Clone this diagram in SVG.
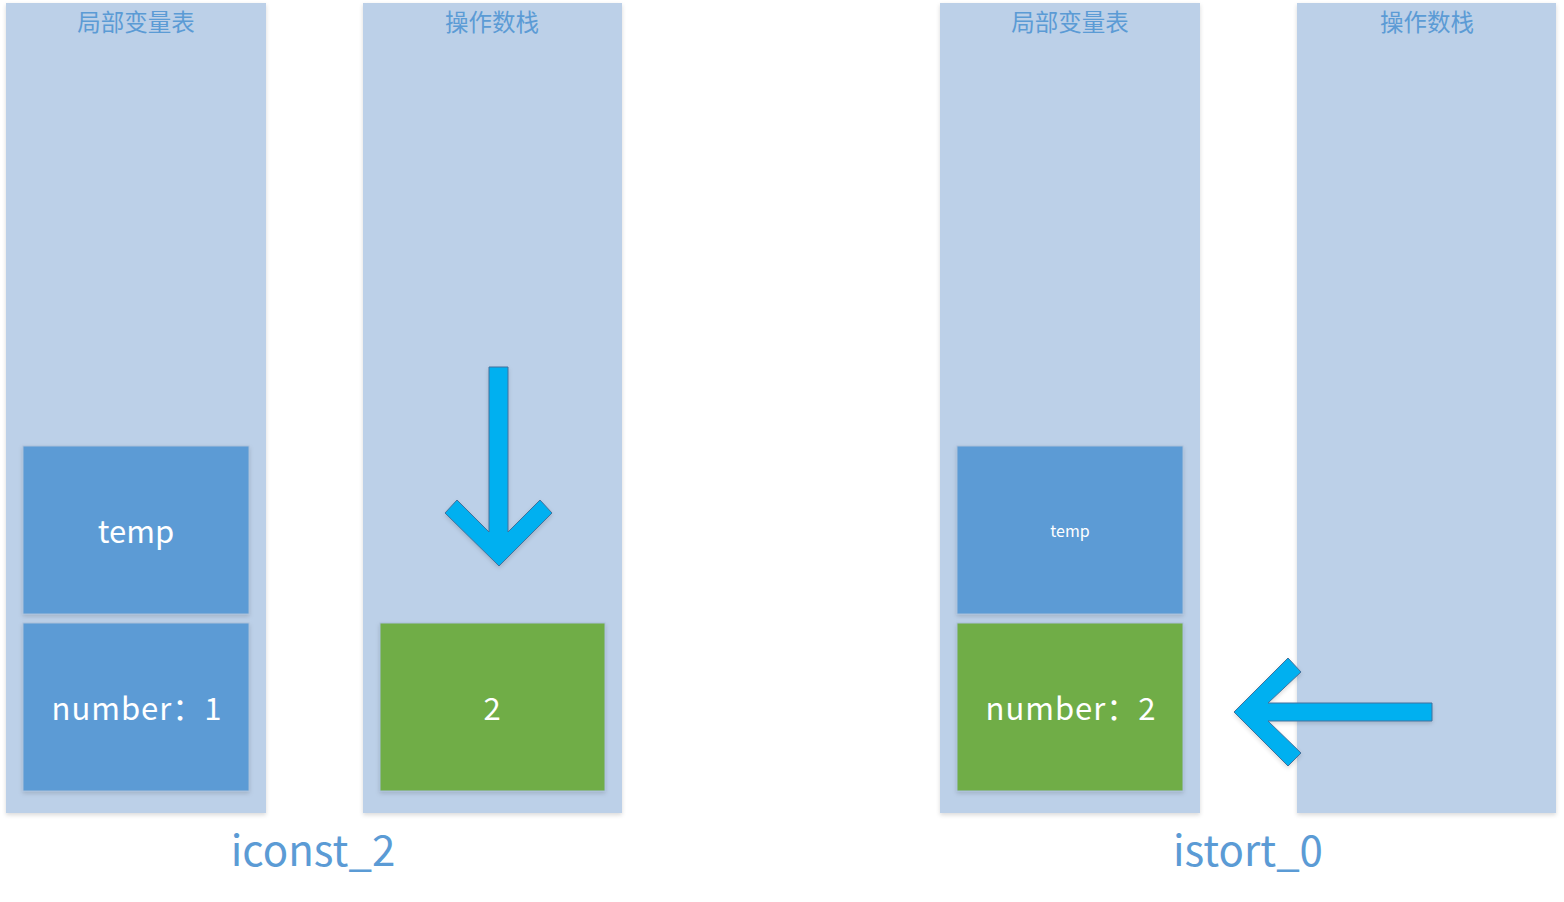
<svg xmlns="http://www.w3.org/2000/svg" width="1564" height="902" viewBox="0 0 1564 902">
  <defs>
    <filter id="sh" x="-10%" y="-10%" width="120%" height="120%">
      <feDropShadow dx="0" dy="2" stdDeviation="2" flood-color="#000" flood-opacity="0.15"/>
    </filter>
    <style>
      .col { fill: #bcd0e8; filter: url(#sh); }
      .hdr { font-family: "Noto Sans CJK SC", "Noto Sans", sans-serif; font-size: 23.5px; fill: #5b9bd5; text-anchor: middle; }
      .blue { fill: #5b9bd5; stroke: #a9bfd9; stroke-width: 1; filter: url(#sh); }
      .green { fill: #70ad47; stroke: #a9bfd9; stroke-width: 1; filter: url(#sh); }
      .lbl { font-family: "Noto Sans CJK SC", "Noto Sans", sans-serif; font-size: 31px; fill: #ffffff; text-anchor: middle; dominant-baseline: central; }
      .wide { letter-spacing: 1px; }
      .small { font-size: 16px; }
      .op { font-family: "Noto Sans CJK SC", "Noto Sans", sans-serif; font-size: 42px; fill: #5b9bd5; text-anchor: middle; }
      .arrow { fill: #00b0f0; stroke: #41719c; stroke-width: 1; filter: url(#sh); }
    </style>
  </defs>
  <rect width="1564" height="902" fill="#ffffff"/>

  <g id="locals-1">
    <rect class="col" x="6" y="3" width="260" height="810"/>
    <text class="hdr" x="136" y="31">局部变量表</text>
  </g>
  <g id="stack-1">
    <rect class="col" x="363" y="3" width="259" height="810"/>
    <text class="hdr" x="492" y="31">操作数栈</text>
  </g>
  <g id="locals-2">
    <rect class="col" x="940" y="3" width="260" height="810"/>
    <text class="hdr" x="1070" y="31">局部变量表</text>
  </g>
  <g id="stack-2">
    <rect class="col" x="1297" y="3" width="259" height="810"/>
    <text class="hdr" x="1427" y="31">操作数栈</text>
  </g>

  <g id="temp-1">
    <rect class="blue" x="23" y="446" width="226" height="168"/>
    <text class="lbl" x="136" y="529">temp</text>
  </g>
  <g id="number-1">
    <rect class="blue" x="23" y="623" width="226" height="168"/>
    <text class="lbl wide" x="137" y="706">number：1</text>
  </g>
  <g id="const-2">
    <rect class="green" x="380" y="623" width="225" height="168"/>
    <text class="lbl" x="492" y="706">2</text>
  </g>
  <g id="temp-2">
    <rect class="blue" x="957" y="446" width="226" height="168"/>
    <text class="lbl small" x="1070" y="530">temp</text>
  </g>
  <g id="number-2">
    <rect class="green" x="957" y="623" width="226" height="168"/>
    <text class="lbl wide" x="1071" y="706">number：2</text>
  </g>

  <g id="connectors">
    <polygon class="arrow" points="489,367 508,367 508,532 540,500 552,513 499,566 445,513 457,500 489,532"/>
    <polygon class="arrow" points="1432,703 1432,721 1268,721 1301,753 1288,766 1234,712 1288,658 1301,672 1268,703"/>
  </g>

  <g id="op-labels">
    <text class="op" x="313" y="866">iconst_2</text>
    <text class="op" x="1248" y="866">istort_0</text>
  </g>
</svg>
